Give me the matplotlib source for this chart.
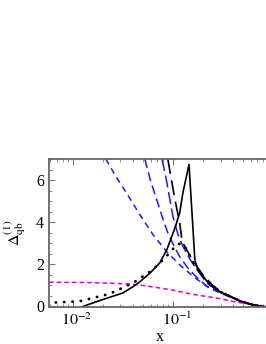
import matplotlib
matplotlib.use("Agg")
import matplotlib.pyplot as plt
import matplotlib.transforms as mtransforms
from matplotlib.ticker import MultipleLocator, LogLocator, NullFormatter

plt.rcParams['font.family'] = ['Liberation Serif', 'DejaVu Serif']
plt.rcParams['mathtext.fontset'] = 'stix'

# solid black
x_full = [0.0126, 0.0186, 0.0316, 0.04, 0.047, 0.059, 0.074, 0.087, 0.105, 0.117, 0.126, 0.145,
          0.166, 0.178, 0.219, 0.234, 0.275, 0.316, 0.4, 0.47, 0.63, 0.8]
y_full = [0.0, 0.28, 0.64, 0.94, 1.18, 1.58, 2.07, 2.69, 3.73, 4.44, 5.4, 6.74,
          2.2, 1.75, 1.2, 1.02, 0.8, 0.63, 0.4, 0.25, 0.08, 0.0]

# dotted black
x_dot = [0.0056, 0.0117, 0.0234, 0.04, 0.063, 0.087, 0.11, 0.123, 0.138, 0.155, 0.186, 0.25,
         0.316, 0.4, 0.5, 0.63, 0.8]
y_dot = [0.17, 0.25, 0.6, 1.12, 1.74, 2.4, 2.95, 3.0, 2.7, 2.2, 1.6, 0.95,
         0.63, 0.4, 0.22, 0.08, 0.0]

# long dashed black
x_bd = [0.089, 0.105, 0.117, 0.124, 0.16, 0.2, 0.25, 0.3, 0.4, 0.5, 0.63, 0.8]
y_bd = [7.0, 5.07, 3.96, 3.08, 2.13, 1.5, 1.0, 0.72, 0.42, 0.23, 0.08, 0.0]

# magenta
x_mag = [0.0058, 0.0126, 0.02, 0.035, 0.047, 0.069, 0.1, 0.138, 0.2, 0.275, 0.4, 0.47, 0.6,
         0.74, 0.85]
y_mag = [1.15, 1.14, 1.12, 1.07, 1.02, 0.9, 0.78, 0.63, 0.5, 0.4, 0.24, 0.18, 0.1, 0.04, 0.01]

# blue dashed curves
x_b1 = [0.0214, 0.0263, 0.0344, 0.0468, 0.0636, 0.0865, 0.117, 0.16, 0.217, 0.295, 0.4, 0.5,
        0.63, 0.8]
y_b1 = [7.0, 6.26, 5.39, 4.36, 3.4, 2.61, 1.98, 1.42, 0.96, 0.64, 0.4, 0.22, 0.08, 0.0]
x_b2 = [0.0525, 0.06, 0.069, 0.079, 0.089, 0.102, 0.117, 0.14, 0.17, 0.22, 0.3, 0.4, 0.5, 0.63, 0.8]
y_b2 = [7.0, 5.95, 5.07, 4.2, 3.5, 2.9, 2.37, 1.85, 1.42, 0.95, 0.66, 0.41, 0.22, 0.08, 0.0]
x_b3 = [0.078, 0.087, 0.1, 0.112, 0.126, 0.15, 0.174, 0.22, 0.3, 0.4, 0.5, 0.63, 0.8]
y_b3 = [7.0, 5.9, 4.28, 3.45, 2.85, 2.2, 1.74, 1.1, 0.68, 0.42, 0.22, 0.08, 0.0]

fig = plt.figure(figsize=(2.66, 3.44), dpi=100)
ax = fig.add_axes([49 / 266, 1 - 306.5 / 344, 224 / 266, 147.5 / 344])

ax.plot(x_b1, y_b1, color='#1a1aff', lw=1.1, dashes=(4, 3))
ax.plot(x_b2, y_b2, color='#1a1aff', lw=1.1, dashes=(6, 3))
ax.plot(x_b3, y_b3, color='#1a1aff', lw=1.1, dashes=(8, 3))
ax.plot(x_mag, y_mag, color='#e000e0', lw=1.1, dashes=(3, 2))
ax.plot(x_bd, y_bd, color='black', lw=1.2, dashes=(9, 4))
ax.plot(x_dot, y_dot, color='black', lw=2, linestyle=(0, (0.1, 2.9)), dash_capstyle='round')
ax.plot(x_full, y_full, color='black', lw=1.2)

ax.set_xscale('log')
ax.set_xlim(0.0058, 1.0)
ax.set_ylim(0, 7)
ax.set_xticks([0.01, 0.1])
ax.set_xticklabels([r'$10^{-2}$', r'$10^{-1}$'], fontsize=11.5)
ax.xaxis.set_minor_locator(LogLocator(base=10, subs=range(2, 10)))
ax.xaxis.set_minor_formatter(NullFormatter())
ax.yaxis.set_major_locator(MultipleLocator(2))
ax.yaxis.set_minor_locator(MultipleLocator(0.5))
ax.tick_params(axis='y', labelsize=11.5)
ax.tick_params(axis='x', pad=4)
ax.tick_params(which='both', direction='in', top=True, right=True, color='#777777')
ax.tick_params(which='major', length=4, width=0.8)
ax.tick_params(which='minor', length=2.5, width=0.6)
for s in ax.spines.values():
    s.set_color('#666666')
    s.set_linewidth(1.3)

# labels in the original sit a few pixels right of their ticks
shift = mtransforms.ScaledTranslation(4 / 100, 0, fig.dpi_scale_trans)
for lab in ax.get_xticklabels():
    lab.set_transform(lab.get_transform() + shift)

ax.set_xlabel('x', fontsize=11.5)
ax.xaxis.set_label_coords(0.495, -0.15)
ax.set_ylabel(r'$\Delta^{(1)}_{\rm qb}$', fontsize=11.5, labelpad=6)

fig.savefig('out.png', dpi=100)
